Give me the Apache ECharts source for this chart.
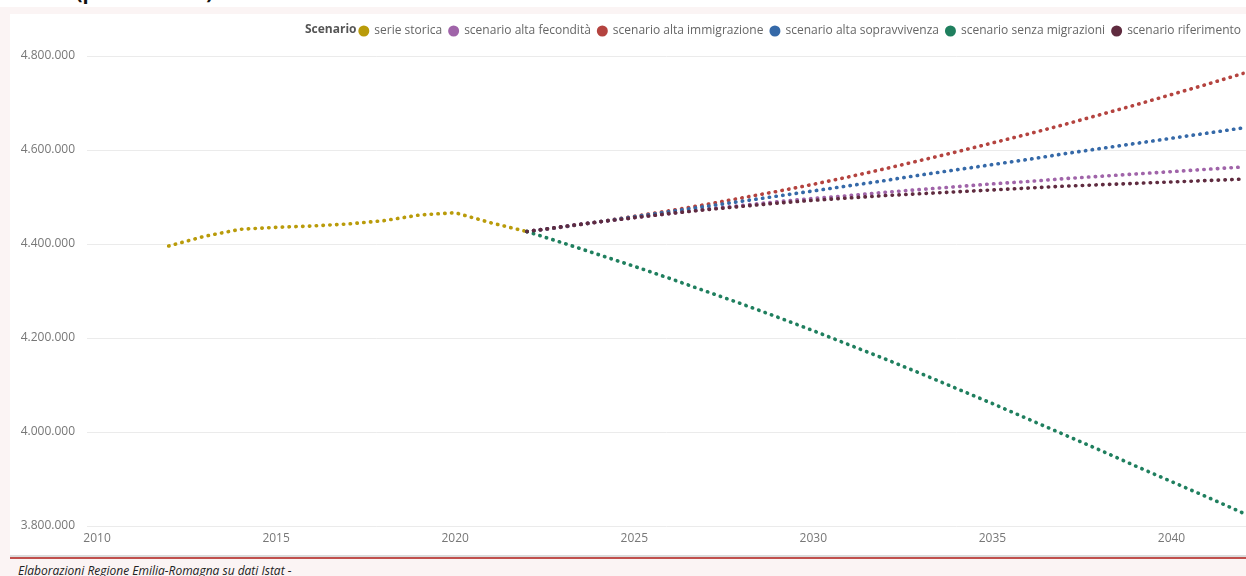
<!DOCTYPE html>
<html lang="it">
<head>
<meta charset="utf-8">
<title>Popolazione residente per scenario</title>
<script src="https://cdn.jsdelivr.net/npm/echarts@6/dist/echarts.min.js"></script>
<style>
  html, body { margin: 0; padding: 0; }
  body {
    width: 1246px; height: 576px; overflow: hidden; position: relative;
    background: #fbf4f4; font-family: "Open Sans", "Noto Sans", sans-serif;
  }
  #titlebar {
    position: absolute; left: 0; top: 0; width: 1246px; height: 7px;
    background: #ffffff; overflow: hidden;
  }
  #titlebar span {
    position: absolute; left: 8px; top: -22px;
    font: bold 20px "Open Sans", sans-serif; color: #111; white-space: nowrap;
  }
  #panel {
    position: absolute; left: 10px; top: 14px; width: 1236px; height: 541px;
    background: #ffffff;
  }
  #chart { position: absolute; left: 0; top: 0; width: 1236px; height: 541px; }
  #shade {
    position: absolute; left: 10px; top: 555px; width: 1236px; height: 2px;
    background: #dcdcdc;
  }
  #rule {
    position: absolute; left: 10px; top: 557px; width: 1236px; height: 2px;
    background: #c0504d;
  }
  #source {
    position: absolute; left: 18px; top: 562px;
    font: italic 12px "Open Sans", sans-serif; color: #222; white-space: nowrap;
  }
</style>
</head>
<body>
<div id="titlebar"><span>Totale (per scenario)</span></div>
<div id="panel"><div id="chart"></div></div>
<div id="shade"></div>
<div id="rule"></div>
<div id="source">Elaborazioni Regione Emilia-Romagna su dati Istat -</div>
<script>
// Popolazione residente in Emilia-Romagna: serie storica e scenari di previsione
const anniStorici = [2012, 2013, 2014, 2015, 2016, 2017, 2018, 2019, 2020, 2021, 2022];
const serieStorica = [4395700, 4416400, 4431300, 4435500, 4438300, 4442600, 4449600, 4461700, 4466600, 4445000, 4426500];

const anniPrevisione = [2022, 2023, 2024, 2025, 2026, 2027, 2028, 2029, 2030, 2031, 2032,
  2033, 2034, 2035, 2036, 2037, 2038, 2039, 2040, 2041, 2042];
const altaFecondita = [4426500, 4437000, 4447000, 4456000, 4465000, 4474000, 4482000, 4490000, 4497000, 4503000, 4510000,
  4516000, 4522000, 4528000, 4533000, 4539000, 4544000, 4549000, 4554000, 4559000, 4564000];
const altaImmigrazione = [4426500, 4436000, 4447000, 4459000, 4471000, 4484000, 4498000, 4512000, 4527000, 4543000, 4560000,
  4578000, 4596000, 4615000, 4634000, 4654000, 4675000, 4696000, 4718000, 4740000, 4763000];
const altaSopravvivenza = [4426500, 4436500, 4447000, 4458000, 4469000, 4480000, 4491000, 4502000, 4513000, 4524000, 4535000,
  4547000, 4558000, 4569000, 4580000, 4592000, 4603000, 4614000, 4625000, 4636000, 4647000];
const senzaMigrazioni = [4426500, 4402500, 4377500, 4352500, 4326500, 4299500, 4272500, 4244500, 4215500, 4185500, 4155500,
  4124500, 4092500, 4060500, 4027500, 3994500, 3961500, 3927500, 3894500, 3861500, 3827500];
const riferimento = [4426500, 4437000, 4447000, 4456000, 4465000, 4473000, 4480000, 4487000, 4493000, 4498000, 4503000,
  4507000, 4511000, 4515000, 4519000, 4523000, 4526000, 4529000, 4532000, 4535000, 4538000];

const tickAnni = [2010, 2015, 2020, 2025, 2030, 2035, 2040];

const FONT = '"Open Sans", "Noto Sans", sans-serif';

function migliaia(v) {
  return String(Math.round(v)).replace(/\B(?=(\d{3})+(?!\d))/g, '.');
}

function coppie(anni, valori) {
  return anni.map((a, i) => [a, valori[i]]);
}

const scenari = [
  { nome: 'serie storica', colore: '#b99b0a', anni: anniStorici, valori: serieStorica },
  { nome: 'scenario alta fecondità', colore: '#a064a9', anni: anniPrevisione, valori: altaFecondita },
  { nome: 'scenario alta immigrazione', colore: '#b4433f', anni: anniPrevisione, valori: altaImmigrazione },
  { nome: 'scenario alta sopravvivenza', colore: '#3569a8', anni: anniPrevisione, valori: altaSopravvivenza },
  { nome: 'scenario senza migrazioni', colore: '#1f7f5e', anni: anniPrevisione, valori: senzaMigrazioni },
  { nome: 'scenario riferimento', colore: '#5f2b3f', anni: anniPrevisione, valori: riferimento }
];

const chart = echarts.init(document.getElementById('chart'), null, { renderer: 'canvas' });

chart.setOption({
  animation: false,
  backgroundColor: '#ffffff',
  textStyle: { fontFamily: FONT },
  graphic: [{
    type: 'text',
    left: 295,
    top: 10,
    style: { text: 'Scenario', fill: '#555', font: 'bold 12px ' + FONT }
  }],
  legend: {
    right: 0,
    top: 6,
    icon: 'circle',
    itemWidth: 11,
    itemHeight: 11,
    itemGap: 6,
    textStyle: { color: '#666', fontSize: 12, fontFamily: FONT },
    data: scenari.map(s => s.nome)
  },
  grid: { left: 77, right: 0, top: 42, bottom: 29, containLabel: false },
  xAxis: {
    type: 'value',
    min: 2009.72,
    max: 2042.08,
    axisLine: { show: false },
    axisTick: { show: false },
    splitLine: { show: false },
    axisLabel: {
      customValues: tickAnni,
      color: '#777',
      fontSize: 12,
      fontFamily: FONT,
      margin: 7,
      formatter: v => String(v)
    }
  },
  yAxis: {
    type: 'value',
    min: 3800000,
    max: 4800000,
    interval: 200000,
    axisLine: { show: false },
    axisTick: { show: false },
    splitLine: { lineStyle: { color: '#ebebeb', width: 1 } },
    axisLabel: { color: '#777', fontSize: 12, fontFamily: FONT, margin: 12, formatter: migliaia }
  },
  series: scenari.map(s => ({
    name: s.nome,
    type: 'line',
    data: coppie(s.anni, s.valori),
    showSymbol: false,
    symbol: 'none',
    color: s.colore,
    itemStyle: { color: s.colore },
    lineStyle: { color: s.colore, width: 3.6, type: [0.4, 6.4], cap: 'round', join: 'round' }
  }))
});
</script>
</body>
</html>
